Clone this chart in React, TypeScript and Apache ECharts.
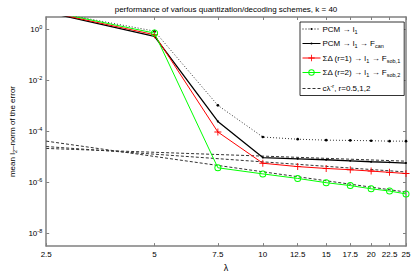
import React, { useEffect, useRef } from "react";
import * as echarts from "echarts";

const lambdas = [2.5, 5, 7.5, 10, 12.5, 15, 17.5, 20, 22.5, 25];
const xTicks = [2.5, 5, 7.5, 10, 12.5, 15, 17.5, 20, 22.5, 25];
const yTicks = [1e-8, 1e-6, 1e-4, 1e-2, 1];

const pcmL1 = [5.5, 0.88, 1.07e-3, 6.1e-5, 5.0e-5, 4.6e-5, 4.48e-5, 4.36e-5, 4.2e-5, 4.2e-5];
const pcmCan = [5.0, 0.55, 2.5e-4, 9.5e-6, 8.5e-6, 7.8e-6, 7.1e-6, 6.5e-6, 6.2e-6, 5.8e-6];
const sd1Sob = [5.2, 0.635, 9.6e-5, 5.7e-6, 4.2e-6, 3.55e-6, 3.17e-6, 2.8e-6, 2.5e-6, 2.24e-6];
const sd2Sob = [5.6, 0.736, 3.77e-6, 2.17e-6, 1.44e-6, 9.8e-7, 7.55e-7, 5.65e-7, 4.6e-7, 3.55e-7];

const refLambdas = [2.5, 25];
const refR05 = [2.17e-5, 6.86e-6];
const refR1 = [2.58e-5, 2.58e-6];
const refR2 = [4.2e-5, 4.2e-7];

const names = [
  "PCM → l1",
  "PCM → l1 → Fcan",
  "ΣΔ (r=1) → l1 → Fsob,1",
  "ΣΔ (r=2) → l1 → Fsob,2",
  "cλ-r, r=0.5,1,2",
];
const legendRich: Record<string, string> = {
  [names[0]]: "PCM → l{sub|1}",
  [names[1]]: "PCM → l{sub|1} → F{sub|can}",
  [names[2]]: "ΣΔ (r=1) → l{sub|1} → F{sub|sob,1}",
  [names[3]]: "ΣΔ (r=2) → l{sub|1} → F{sub|sob,2}",
  [names[4]]: "cλ{sup|-r}, r=0.5,1,2",
};

const FONT = "Liberation Sans, Arial, Helvetica, sans-serif";
const AX = "#808080";
const plus = "path://M4.35,0H5.65V4.35H10V5.65H5.65V10H4.35V5.65H0V4.35H4.35Z";
// small dot centred in a 10x10 box (the moves set the box)
const dot = "path://M0,0M10,10M3.5,5A1.5,1.5,0,1,0,6.5,5A1.5,1.5,0,1,0,3.5,5Z";
// thin open ring
const ring =
  "path://M0,5A5,5,0,1,1,10,5A5,5,0,1,1,0,5ZM1.4,5A3.6,3.6,0,1,0,8.6,5A3.6,3.6,0,1,0,1.4,5Z";

const pairs = (xs: number[], ys: number[]) => xs.map((x, i) => [x, ys[i]]);

export default function App() {
  const ref = useRef<HTMLDivElement>(null);
  useEffect(() => {
    const chart = echarts.init(ref.current!, null, { renderer: "svg" });
    const dashed = (data: number[]) => ({
      type: "line",
      name: names[4],
      data: pairs(refLambdas, data),
      symbol: "none",
      itemStyle: { color: "#333" },
      lineStyle: { color: "#333", width: 1, type: [3, 2] },
      z: 1,
    });
    chart.setOption({
      animation: false,
      title: {
        text: "performance of various quantization/decoding schemes, k = 40",
        left: 221,
        top: 0,
        textAlign: "center",
        textStyle: { fontSize: 8, fontWeight: "normal", color: "#000", fontFamily: FONT },
      },
      legend: {
        orient: "vertical",
        left: 300,
        top: 22,
        width: 104,
        padding: [3, 4, 3, 2],
        itemGap: 5,
        itemWidth: 18,
        itemHeight: 8,
        backgroundColor: "#fff",
        borderColor: "#000",
        borderWidth: 0.8,
        borderRadius: 0,
        lineStyle: { width: 1 },
        data: [
          names[0],
          names[1],
          names[2],
          names[3],
          { name: names[4], itemStyle: { opacity: 0 } },
        ],
        formatter: (n: string) => legendRich[n] || n,
        textStyle: {
          fontSize: 8,
          fontFamily: FONT,
          color: "#000",
          padding: [0, 0, 0, -3],
          rich: {
            sub: { fontSize: 5.5, padding: [5, 0, 0, 0], fontFamily: FONT },
            sup: { fontSize: 5.5, padding: [0, 0, 5, 0], fontFamily: FONT },
          },
        },
      },
      grid: { left: 33, top: 17, width: 373, height: 237, containLabel: false },
      xAxis: [
        {
          type: "log",
          logBase: 10,
          min: 2.5,
          max: 25,
          name: "λ",
          nameLocation: "middle",
          nameGap: 13,
          nameTextStyle: { fontSize: 9, color: "#000", fontFamily: FONT },
          axisLine: { lineStyle: { color: AX, width: 1.5 } },
          axisTick: { inside: true, length: 3, customValues: xTicks, lineStyle: { color: AX } },
          axisLabel: {
            customValues: xTicks,
            formatter: (v: number) => String(Math.round(v * 10) / 10),
            fontSize: 8,
            color: "#000",
            margin: 4,
            fontFamily: FONT,
          },
          splitLine: { show: false },
          minorTick: { show: false },
        },
        {
          type: "log",
          logBase: 10,
          position: "top",
          min: 2.5,
          max: 25,
          axisLine: { lineStyle: { color: AX, width: 1.5 } },
          axisTick: { inside: true, length: 3, customValues: xTicks, lineStyle: { color: AX } },
          axisLabel: { show: false },
          splitLine: { show: false },
        },
      ],
      yAxis: [
        {
          type: "log",
          logBase: 10,
          min: Math.pow(10, -8.5),
          max: Math.pow(10, 0.5),
          name: "mean l{sub|2}–norm of the error",
          nameLocation: "middle",
          nameGap: 19,
          nameRotate: 90,
          nameTextStyle: {
            fontSize: 8,
            color: "#000",
            fontFamily: FONT,
            rich: { sub: { fontSize: 5.5, padding: [5, 0, 0, 0], fontFamily: FONT, color: "#000" } },
          },
          axisLine: { lineStyle: { color: AX, width: 1.5 } },
          axisTick: { inside: true, length: 3, customValues: yTicks, lineStyle: { color: AX } },
          axisLabel: {
            customValues: yTicks,
            formatter: (v: number) => `10{sup|${Math.round(Math.log10(v))}}`,
            fontSize: 8,
            color: "#000",
            margin: 4,
            fontFamily: FONT,
            rich: { sup: { fontSize: 5.5, padding: [0, 0, 5, 0], fontFamily: FONT, color: "#000" } },
          },
          splitLine: { show: false },
        },
        {
          type: "log",
          logBase: 10,
          position: "right",
          min: Math.pow(10, -8.5),
          max: Math.pow(10, 0.5),
          axisLine: { lineStyle: { color: AX, width: 1.5 } },
          axisTick: { inside: true, length: 3, customValues: yTicks, lineStyle: { color: AX } },
          axisLabel: { show: false },
          splitLine: { show: false },
        },
      ],
      series: [
        {
          type: "line",
          name: names[0],
          data: pairs(lambdas, pcmL1),
          symbol: dot,
          symbolSize: 9,
          itemStyle: { color: "#000" },
          lineStyle: { color: "#000", width: 0.8, type: [1, 2] },
          z: 3,
        },
        {
          type: "line",
          name: names[1],
          data: pairs(lambdas, pcmCan),
          symbol: dot,
          symbolSize: 7,
          itemStyle: { color: "#000" },
          lineStyle: { color: "#000", width: 1.3 },
          z: 3,
        },
        {
          type: "line",
          name: names[2],
          data: pairs(lambdas, sd1Sob),
          symbol: plus,
          symbolSize: 7,
          itemStyle: { color: "#ff0000" },
          lineStyle: { color: "#ff0000", width: 1 },
          z: 4,
        },
        {
          type: "line",
          name: names[3],
          data: pairs(lambdas, sd2Sob),
          symbol: ring,
          symbolSize: 7,
          itemStyle: { color: "#00ff00" },
          lineStyle: { color: "#00ff00", width: 1 },
          z: 5,
        },
        dashed(refR05),
        dashed(refR1),
        dashed(refR2),
      ],
    });
    return () => chart.dispose();
  }, []);
  return (
    <div
      ref={ref}
      style={{ position: "fixed", left: 0, top: 0, width: 415, height: 277, background: "#fff" }}
    />
  );
}
